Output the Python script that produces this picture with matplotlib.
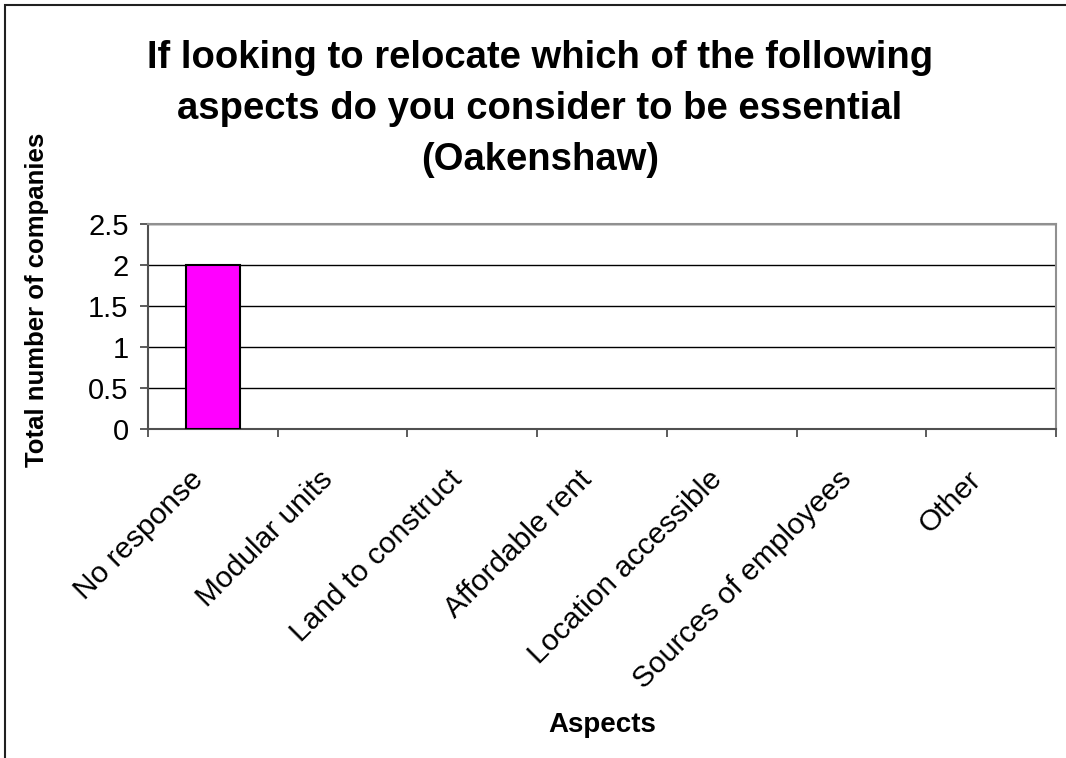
import matplotlib
matplotlib.use("Agg")
import matplotlib.pyplot as plt
import matplotlib.patches as mpatches
import matplotlib.transforms as mtransforms
import numpy as np

plt.rcParams["font.family"] = ["Liberation Sans", "DejaVu Sans"]

# data
aspects = [
    "No response",
    "Modular units",
    "Land to construct",
    "Affordable rent",
    "Location accessible",
    "Sources of employees",
    "Other",
]
companies = [2, 0, 0, 0, 0, 0, 0]
y_ticks = [0, 0.5, 1, 1.5, 2, 2.5]

W, H = 1066, 758
fig = plt.figure(figsize=(W / 100, H / 100), dpi=100)
fig.patch.set_facecolor("white")

# outer chart border (screenshot is cropped on right/bottom)
fig.patches.append(mpatches.Rectangle(
    (5 / W, -0.1), 1.2, 1 - 5 / H + 0.1, transform=fig.transFigure,
    fill=False, edgecolor="#202020", linewidth=1.5))

ax = fig.add_axes([148 / W, 1 - 429 / H, (1056 - 148) / W, (429 - 224) / H])

x = np.arange(len(aspects))
# zero-height bars get no outline, like Excel
ax.bar(x, companies, width=0.42, color="#FF00FF", edgecolor="black",
       linewidth=[1.5 if v > 0 else 0 for v in companies], zorder=3)

ax.set_xlim(-0.5, len(aspects) - 0.5)
ax.set_ylim(0, 2.5)
ax.set_yticks(y_ticks)
ax.set_yticklabels([f"{v:g}" for v in y_ticks], fontsize=21)
ax.yaxis.grid(True, color="black", linewidth=1.0, zorder=1)
ax.set_axisbelow(True)

# category boundaries carry the x ticks
ax.set_xticks(np.arange(len(aspects) + 1) - 0.5)
ax.set_xticklabels([])
ax.set_xticks(x, minor=True)
ax.set_xticklabels(aspects, minor=True, rotation=45, ha="right",
                   rotation_mode="anchor", fontsize=21.5)
ax.tick_params(axis="x", which="minor", length=0, pad=34)
ax.tick_params(axis="x", which="major", length=6, width=1.2, color="#404040")
ax.tick_params(axis="y", length=6, width=1.2, color="#404040", pad=8)

# Excel-style placement: label ends just left of the category centre
shift = mtransforms.ScaledTranslation(-24 / 100, 11 / 100, fig.dpi_scale_trans)
for lbl in ax.get_xticklabels(minor=True):
    lbl.set_transform(lbl.get_transform() + shift)

for side in ["left", "bottom"]:
    ax.spines[side].set_color("#505050")
    ax.spines[side].set_linewidth(1.5)
for side in ["top", "right"]:
    ax.spines[side].set_color("#909090")
    ax.spines[side].set_linewidth(1.5)

fig.text(540 / W, 1 - 109 / H,
         "If looking to relocate which of the following\n"
         "aspects do you consider to be essential\n(Oakenshaw)",
         ha="center", va="center", fontsize=27.5, fontweight="bold",
         linespacing=1.52)
fig.text(37 / W, 1 - 300 / H, "Total number of companies", rotation=90,
         ha="center", va="center", fontsize=18.5, fontweight="bold")
fig.text(602 / W, 1 - 725 / H, "Aspects", ha="center", va="center",
         fontsize=20, fontweight="bold")

fig.savefig("out.png", dpi=100)
